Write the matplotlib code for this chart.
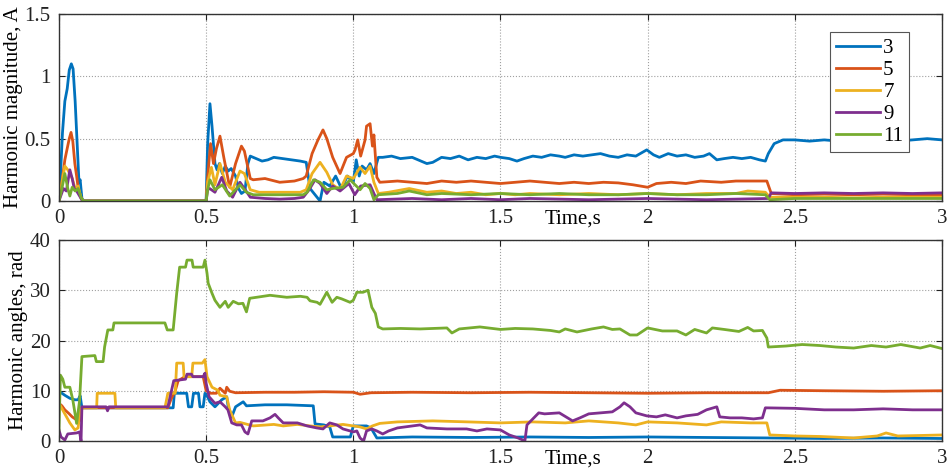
#!/usr/bin/env python3
"""Harmonic magnitudes and angles (orders 3..11) over a 3 s run, two stacked panels."""
import matplotlib
matplotlib.use("Agg")
import matplotlib.pyplot as plt

plt.rcParams["font.family"] = ["Liberation Serif", "DejaVu Serif"]

ORDERS = ["3", "5", "7", "9", "11"]
COLORS = ["#0072BD", "#D95319", "#EDB120", "#7E2F8E", "#77AC30"]

XTICKS = [0, 0.5, 1, 1.5, 2, 2.5, 3]
XTICK_LABELS = ["0", "0.5", "1", "1.5", "2", "2.5", "3"]
MAG_YTICKS = [0, 0.5, 1, 1.5]
MAG_YTICK_LABELS = ["0", "0.5", "1", "1.5"]
ANG_YTICKS = [0, 10, 20, 30, 40]

# (time s, magnitude A)
mag_h3 = [(0, 0), (0.005, 0.2), (0.012, 0.55), (0.02, 0.8), (0.028, 0.9), (0.035, 1.05),
          (0.042, 1.1), (0.048, 1.06), (0.055, 0.8), (0.062, 0.45), (0.068, 0.15), (0.072, 0.17),
          (0.078, 0.02), (0.085, 0), (0.5, 0), (0.505, 0.45), (0.513, 0.78), (0.52, 0.6),
          (0.53, 0.3), (0.537, 0.25), (0.545, 0.3), (0.555, 0.22), (0.565, 0.28), (0.575, 0.24),
          (0.585, 0.26), (0.6, 0.2), (0.61, 0.1), (0.62, 0.06), (0.632, 0.08), (0.642, 0.3),
          (0.65, 0.36), (0.67, 0.34), (0.69, 0.32), (0.71, 0.33), (0.73, 0.35), (0.76, 0.34),
          (0.79, 0.33), (0.82, 0.32), (0.84, 0.31), (0.853, 0.1), (0.87, 0.05), (0.887, 0.0),
          (0.9, 0.15), (0.92, 0.12), (0.94, 0.2), (0.96, 0.1), (0.98, 0.2), (1.0, 0.15),
          (1.01, 0.33), (1.02, 0.2), (1.03, 0.28), (1.045, 0.25), (1.057, 0.3), (1.07, 0.22),
          (1.085, 0.35), (1.1, 0.35), (1.13, 0.36), (1.16, 0.34), (1.2, 0.35), (1.23, 0.32),
          (1.25, 0.30), (1.27, 0.31), (1.3, 0.35), (1.33, 0.34), (1.36, 0.36), (1.39, 0.33),
          (1.42, 0.35), (1.45, 0.34), (1.48, 0.36), (1.5, 0.35), (1.53, 0.34), (1.556, 0.32),
          (1.58, 0.34), (1.61, 0.36), (1.64, 0.35), (1.67, 0.37), (1.70, 0.36), (1.72, 0.35),
          (1.75, 0.37), (1.78, 0.36), (1.81, 0.37), (1.84, 0.38), (1.87, 0.36), (1.9, 0.35),
          (1.93, 0.37), (1.96, 0.36), (1.997, 0.41), (2.02, 0.37), (2.04, 0.35), (2.07, 0.38),
          (2.1, 0.36), (2.13, 0.37), (2.16, 0.35), (2.19, 0.36), (2.21, 0.38), (2.235, 0.33),
          (2.26, 0.34), (2.29, 0.35), (2.32, 0.34), (2.35, 0.35), (2.38, 0.33), (2.40, 0.32),
          (2.41, 0.38), (2.43, 0.46), (2.46, 0.49), (2.5, 0.49), (2.55, 0.48), (2.6, 0.49),
          (2.65, 0.48), (2.7, 0.49), (2.75, 0.48), (2.8, 0.49), (2.85, 0.48), (2.9, 0.49),
          (2.95, 0.50), (3.0, 0.49)]
mag_h5 = [(0, 0), (0.01, 0.15), (0.02, 0.33), (0.027, 0.41), (0.035, 0.5), (0.041, 0.55),
          (0.047, 0.48), (0.054, 0.3), (0.06, 0.2), (0.066, 0.09), (0.072, 0.05), (0.08, 0),
          (0.5, 0), (0.505, 0.19), (0.515, 0.46), (0.525, 0.3), (0.535, 0.42), (0.547, 0.52),
          (0.56, 0.35), (0.58, 0.11), (0.6, 0.3), (0.62, 0.44), (0.63, 0.4), (0.65, 0.18),
          (0.66, 0.17), (0.7, 0.18), (0.75, 0.15), (0.8, 0.16), (0.83, 0.18), (0.84, 0.2),
          (0.86, 0.38), (0.88, 0.49), (0.897, 0.57), (0.91, 0.5), (0.93, 0.35), (0.955, 0.22),
          (0.977, 0.35), (1.0, 0.38), (1.006, 0.41), (1.015, 0.49), (1.025, 0.36), (1.04, 0.49),
          (1.045, 0.6), (1.057, 0.62), (1.065, 0.44), (1.07, 0.53), (1.08, 0.19), (1.09, 0.15),
          (1.15, 0.16), (1.2, 0.15), (1.25, 0.14), (1.3, 0.16), (1.35, 0.15), (1.4, 0.16),
          (1.45, 0.15), (1.5, 0.14), (1.55, 0.15), (1.6, 0.16), (1.65, 0.15), (1.7, 0.14),
          (1.75, 0.15), (1.8, 0.14), (1.85, 0.15), (1.9, 0.145), (1.95, 0.13), (2.0, 0.11),
          (2.03, 0.14), (2.08, 0.15), (2.13, 0.14), (2.18, 0.16), (2.25, 0.15), (2.3, 0.16),
          (2.36, 0.16), (2.39, 0.16), (2.405, 0.16), (2.42, 0.06), (2.5, 0.05), (2.6, 0.055),
          (2.7, 0.05), (2.8, 0.055), (2.9, 0.05), (3.0, 0.05)]
mag_h7 = [(0, 0), (0.01, 0.15), (0.02, 0.28), (0.03, 0.25), (0.045, 0.18), (0.055, 0.1),
          (0.065, 0.12), (0.075, 0.02), (0.085, 0), (0.5, 0), (0.505, 0.15), (0.518, 0.27),
          (0.53, 0.13), (0.547, 0.3), (0.565, 0.15), (0.59, 0.09), (0.615, 0.24), (0.63, 0.22),
          (0.65, 0.09), (0.68, 0.07), (0.75, 0.07), (0.82, 0.07), (0.84, 0.09), (0.86, 0.22),
          (0.887, 0.31), (0.91, 0.23), (0.93, 0.13), (0.955, 0.09), (0.977, 0.2), (1.0, 0.18),
          (1.023, 0.27), (1.04, 0.22), (1.057, 0.28), (1.07, 0.15), (1.085, 0.06), (1.12, 0.07),
          (1.19, 0.1), (1.25, 0.07), (1.3, 0.08), (1.35, 0.06), (1.4, 0.07), (1.45, 0.05),
          (1.5, 0.06), (1.55, 0.05), (1.6, 0.06), (1.7, 0.05), (1.8, 0.06), (1.9, 0.05),
          (2.0, 0.06), (2.1, 0.05), (2.2, 0.06), (2.3, 0.06), (2.34, 0.08), (2.4, 0.07),
          (2.415, 0.03), (2.5, 0.03), (2.6, 0.03), (2.7, 0.025), (2.8, 0.03), (2.9, 0.03),
          (3.0, 0.03)]
mag_h9 = [(0, 0), (0.015, 0.1), (0.025, 0.08), (0.037, 0.25), (0.045, 0.18), (0.052, 0.1),
          (0.06, 0.08), (0.07, 0.04), (0.08, 0), (0.5, 0), (0.505, 0.09), (0.512, 0.1),
          (0.53, 0.07), (0.553, 0.19), (0.57, 0.08), (0.59, 0.03), (0.615, 0.15), (0.63, 0.1),
          (0.65, 0.03), (0.7, 0.02), (0.75, 0.015), (0.8, 0.02), (0.83, 0.03), (0.85, 0.09),
          (0.87, 0.17), (0.887, 0.14), (0.91, 0.06), (0.93, 0.12), (0.955, 0.08), (0.985, 0.14),
          (1.005, 0.05), (1.025, 0.12), (1.057, 0.13), (1.07, 0.06), (1.08, 0.01), (1.2, 0.02),
          (1.3, 0.01), (1.4, 0.02), (1.5, 0.01), (1.6, 0.02), (1.8, 0.01), (2.0, 0.02),
          (2.2, 0.01), (2.41, 0.02), (2.42, 0.065), (2.5, 0.06), (2.6, 0.065), (2.7, 0.06),
          (2.8, 0.065), (2.9, 0.06), (3.0, 0.065)]
mag_h11 = [(0, 0), (0.01, 0.1), (0.02, 0.22), (0.03, 0.1), (0.037, 0.04), (0.045, 0.11),
           (0.055, 0.08), (0.065, 0.1), (0.075, 0.03), (0.082, 0), (0.5, 0), (0.505, 0.09),
           (0.513, 0.17), (0.53, 0.09), (0.555, 0.13), (0.58, 0.04), (0.615, 0.13), (0.637, 0.07),
           (0.66, 0.05), (0.75, 0.05), (0.83, 0.05), (0.843, 0.07), (0.865, 0.17), (0.887, 0.15),
           (0.91, 0.09), (0.93, 0.1), (0.965, 0.11), (0.989, 0.17), (1.023, 0.09), (1.04, 0.14),
           (1.057, 0.1), (1.07, 0.01), (1.085, 0.05), (1.15, 0.06), (1.19, 0.08), (1.25, 0.05),
           (1.3, 0.06), (1.4, 0.05), (1.5, 0.06), (1.6, 0.05), (1.7, 0.06), (1.8, 0.05),
           (1.9, 0.05), (2.0, 0.06), (2.1, 0.05), (2.2, 0.05), (2.3, 0.06), (2.4, 0.05),
           (2.415, 0.01), (2.5, 0.02), (2.7, 0.02), (3.0, 0.02)]

# (time s, angle rad)
ang_h3 = [(0, 9.7), (0.005, 9.7), (0.02, 9.1), (0.037, 8.5), (0.054, 8.2), (0.065, 8.2),
          (0.072, 9.0), (0.078, 6.6), (0.388, 6.6), (0.392, 9.5), (0.434, 9.5), (0.44, 6.8),
          (0.451, 6.8), (0.457, 9.5), (0.474, 9.5), (0.479, 6.8), (0.49, 6.8), (0.496, 9.5),
          (0.503, 9.0), (0.513, 7.8), (0.53, 6.8), (0.553, 8.2), (0.57, 8.8), (0.575, 6.8),
          (0.587, 4.8), (0.6, 6.8), (0.626, 7.8), (0.637, 7.0), (0.7, 7.2), (0.774, 7.2),
          (0.864, 7.0), (0.87, 3.4), (0.9, 3.2), (0.92, 2.8), (0.93, 0.8), (0.99, 0.8),
          (1.0, 3.0), (1.045, 3.0), (1.06, 2.6), (1.08, 0.6), (1.2, 0.8), (1.4, 0.7),
          (1.6, 0.8), (1.8, 0.7), (2.0, 0.8), (2.2, 0.7), (2.42, 0.6), (2.6, 0.5),
          (2.8, 0.6), (3.0, 0.5)]
ang_h5 = [(0, 7.5), (0.01, 7.0), (0.02, 6.2), (0.035, 5.4), (0.045, 4.8), (0.06, 4.2),
          (0.07, 4.0), (0.077, 6.6), (0.37, 6.6), (0.38, 8.2), (0.395, 10.0), (0.405, 12.0),
          (0.428, 12.8), (0.49, 12.8), (0.5, 10.0), (0.515, 9.5), (0.535, 9.5), (0.547, 10.5),
          (0.565, 9.5), (0.57, 10.7), (0.58, 9.9), (0.6, 9.6), (0.7, 9.7), (0.8, 9.7),
          (0.9, 9.8), (1.0, 9.7), (1.023, 9.3), (1.06, 9.6), (1.2, 9.7), (1.4, 9.6),
          (1.6, 9.7), (1.8, 9.6), (2.0, 9.5), (2.2, 9.6), (2.41, 9.6), (2.45, 10.1),
          (2.6, 10.0), (2.8, 9.9), (3.0, 10.0)]
ang_h7 = [(0, 7.5), (0.02, 5.4), (0.037, 3.6), (0.054, 2.2), (0.065, 2.6), (0.072, 6.0),
          (0.078, 6.6), (0.128, 6.6), (0.13, 9.5), (0.19, 9.5), (0.193, 6.6), (0.36, 6.6),
          (0.37, 9.5), (0.395, 9.5), (0.4, 15.5), (0.422, 15.5), (0.425, 12.8), (0.451, 12.8),
          (0.455, 15.5), (0.487, 15.5), (0.496, 16.2), (0.503, 12.8), (0.52, 10.7), (0.54, 10.1),
          (0.547, 9.1), (0.57, 8.8), (0.58, 6.2), (0.6, 3.6), (0.615, 3.7), (0.66, 3.0),
          (0.73, 3.3), (0.762, 3.0), (0.81, 3.3), (0.853, 3.0), (0.887, 2.8), (0.92, 3.0),
          (0.965, 3.3), (1.0, 3.0), (1.023, 2.8), (1.045, 2.4), (1.065, 3.0), (1.09, 3.5),
          (1.15, 3.8), (1.27, 4.0), (1.39, 3.8), (1.5, 3.6), (1.61, 3.8), (1.72, 3.6),
          (1.8, 4.0), (1.9, 3.6), (1.96, 3.2), (2.0, 3.8), (2.1, 3.6), (2.2, 3.2),
          (2.25, 3.8), (2.35, 3.6), (2.405, 3.6), (2.415, 1.2), (2.5, 1.0), (2.585, 0.9),
          (2.7, 0.6), (2.78, 1.0), (2.81, 1.6), (2.85, 1.0), (2.93, 1.1), (3.0, 1.2)]
ang_h9 = [(0, 2.2), (0.007, 0.8), (0.02, 0.2), (0.03, 1.4), (0.06, 1.6), (0.07, 1.8),
          (0.075, 0.0), (0.078, 6.8), (0.16, 6.8), (0.165, 6.0), (0.17, 6.8), (0.37, 6.8),
          (0.39, 12.0), (0.43, 12.3), (0.435, 13.3), (0.45, 13.3), (0.455, 12.8), (0.49, 12.8),
          (0.496, 13.5), (0.5, 11.5), (0.51, 8.8), (0.53, 7.5), (0.547, 7.8), (0.565, 6.8),
          (0.574, 6.2), (0.587, 3.6), (0.604, 3.2), (0.62, 3.2), (0.632, 1.8), (0.642, 1.4),
          (0.655, 4.0), (0.693, 4.0), (0.717, 4.6), (0.734, 5.3), (0.745, 4.6), (0.762, 3.6),
          (0.81, 3.6), (0.843, 3.0), (0.876, 2.6), (0.897, 2.4), (0.92, 3.6), (0.944, 3.2),
          (0.965, 2.4), (0.989, 2.0), (1.0, 1.8), (1.012, 2.0), (1.023, 0.6), (1.035, 0.0),
          (1.045, 2.0), (1.063, 2.4), (1.08, 2.0), (1.1, 1.4), (1.12, 2.0), (1.15, 2.6),
          (1.227, 3.2), (1.25, 2.6), (1.318, 2.4), (1.385, 2.4), (1.42, 2.0), (1.454, 2.4),
          (1.5, 2.2), (1.53, 1.2), (1.56, 0.6), (1.583, 0.0), (1.59, 3.2), (1.61, 4.4),
          (1.63, 5.6), (1.65, 5.4), (1.70, 5.6), (1.745, 4.0), (1.77, 4.6), (1.80, 5.4),
          (1.84, 5.6), (1.88, 5.8), (1.906, 6.8), (1.92, 7.6), (1.94, 6.8), (1.96, 5.6),
          (1.997, 5.0), (2.03, 4.8), (2.06, 5.2), (2.1, 4.6), (2.13, 5.0), (2.17, 5.3),
          (2.2, 6.2), (2.235, 6.8), (2.245, 4.8), (2.28, 4.6), (2.32, 4.6), (2.36, 4.4),
          (2.39, 4.6), (2.40, 6.6), (2.5, 6.5), (2.6, 6.2), (2.7, 6.2), (2.8, 6.4),
          (2.9, 6.2), (3.0, 6.2)]
ang_h11 = [(0, 2.2), (0.005, 13.1), (0.013, 12.3), (0.02, 10.7), (0.037, 10.7), (0.047, 8.2),
           (0.06, 3.5), (0.07, 8.0), (0.078, 16.8), (0.122, 17.0), (0.127, 15.8), (0.15, 15.8),
           (0.155, 18.7), (0.166, 22.1), (0.183, 22.1), (0.187, 23.5), (0.36, 23.5), (0.368, 22.1),
           (0.388, 22.1), (0.4, 29.4), (0.41, 34.6), (0.43, 34.6), (0.435, 36.0), (0.452, 36.0),
           (0.456, 34.6), (0.49, 34.6), (0.496, 36.0), (0.503, 33.4), (0.507, 31.4), (0.52, 29.4),
           (0.53, 28.0), (0.547, 26.6), (0.565, 27.8), (0.575, 26.6), (0.592, 27.8), (0.61, 27.3),
           (0.625, 27.4), (0.637, 25.7), (0.648, 28.4), (0.683, 28.7), (0.717, 29.0), (0.774, 28.6),
           (0.82, 28.8), (0.843, 28.6), (0.853, 27.9), (0.877, 27.6), (0.887, 27.2), (0.91, 29.6),
           (0.928, 27.6), (0.944, 28.6), (0.96, 28.3), (0.989, 27.6), (1.0, 28.0), (1.012, 29.6),
           (1.033, 29.6), (1.05, 30.0), (1.063, 26.6), (1.075, 25.4), (1.085, 22.7), (1.1, 22.3),
           (1.16, 22.4), (1.227, 22.3), (1.318, 22.5), (1.335, 21.5), (1.36, 22.3), (1.43, 22.7),
           (1.5, 22.2), (1.55, 22.4), (1.61, 22.3), (1.67, 22.0), (1.70, 21.7), (1.72, 22.3),
           (1.76, 21.7), (1.81, 22.3), (1.85, 22.7), (1.88, 22.2), (1.906, 22.3), (1.94, 21.1),
           (1.964, 21.1), (2.0, 22.5), (2.05, 21.9), (2.1, 21.9), (2.13, 21.1), (2.16, 22.2),
           (2.2, 21.5), (2.22, 22.5), (2.26, 22.2), (2.31, 21.8), (2.34, 22.6), (2.36, 21.9),
           (2.39, 22.0), (2.405, 20.5), (2.41, 18.7), (2.47, 18.9), (2.525, 19.2), (2.585, 19.0),
           (2.64, 18.7), (2.7, 18.5), (2.76, 19.0), (2.81, 18.7), (2.86, 19.2), (2.926, 18.5),
           (2.96, 19.0), (3.0, 18.4)]

MAG_SERIES = [mag_h3, mag_h5, mag_h7, mag_h9, mag_h11]
ANG_SERIES = [ang_h3, ang_h5, ang_h7, ang_h9, ang_h11]

FS = 15
LW = 2.0


def style_axes(ax, yticks, ylabels):
    ax.set_xlim(0, 3)
    ax.set_xticks(XTICKS)
    ax.set_xticklabels(XTICK_LABELS)
    ax.set_yticks(yticks)
    ax.set_yticklabels(ylabels)
    ax.set_ylim(yticks[0], yticks[-1])
    ax.tick_params(direction="in", top=True, right=True, length=4, width=0.8,
                   labelsize=FS, colors="#222222")
    ax.tick_params(axis="x", pad=6)
    ax.tick_params(axis="y", pad=6)
    ax.grid(True, linestyle=":", color="#a0a0a0", linewidth=0.8)
    for sp in ax.spines.values():
        sp.set_color("#333333")
        sp.set_linewidth(1.0)


fig = plt.figure(figsize=(9.51, 4.72), dpi=100)
ax1 = fig.add_axes([0.062, 0.5742, 0.9285, 0.3962])
ax2 = fig.add_axes([0.062, 0.0657, 0.9285, 0.4258])

for pts, lab, col in zip(MAG_SERIES, ORDERS, COLORS):
    t, v = zip(*pts)
    ax1.plot(t, v, color=col, linewidth=LW, label=lab)
for pts, col in zip(ANG_SERIES, COLORS):
    t, v = zip(*pts)
    ax2.plot(t, v, color=col, linewidth=LW)

style_axes(ax1, MAG_YTICKS, MAG_YTICK_LABELS)
style_axes(ax2, ANG_YTICKS, [str(v) for v in ANG_YTICKS])

ax1.set_ylabel("Harmonic magnitude, A", fontsize=FS, labelpad=1)
ax2.set_ylabel("Harmonic angles, rad", fontsize=FS, labelpad=1)
for ax in (ax1, ax2):
    ax.set_xlabel("Time,s", fontsize=FS)
    ax.xaxis.label.set_va("top")
# label sits on the tick-label row, between 1.5 and 2
ax1.xaxis.set_label_coords(0.582, -0.045)
ax2.xaxis.set_label_coords(0.582, -0.042)

leg = ax1.legend(loc="upper left", bbox_to_anchor=(0.8728, 0.9322),
                 bbox_transform=fig.transFigure, borderaxespad=0, fontsize=FS,
                 handlelength=2.1, handletextpad=0.15, labelspacing=0.12,
                 borderpad=0.3, fancybox=False, framealpha=1)
leg.get_frame().set_edgecolor("#555555")
leg.get_frame().set_linewidth(0.8)

fig.savefig("out.png", dpi=100)
